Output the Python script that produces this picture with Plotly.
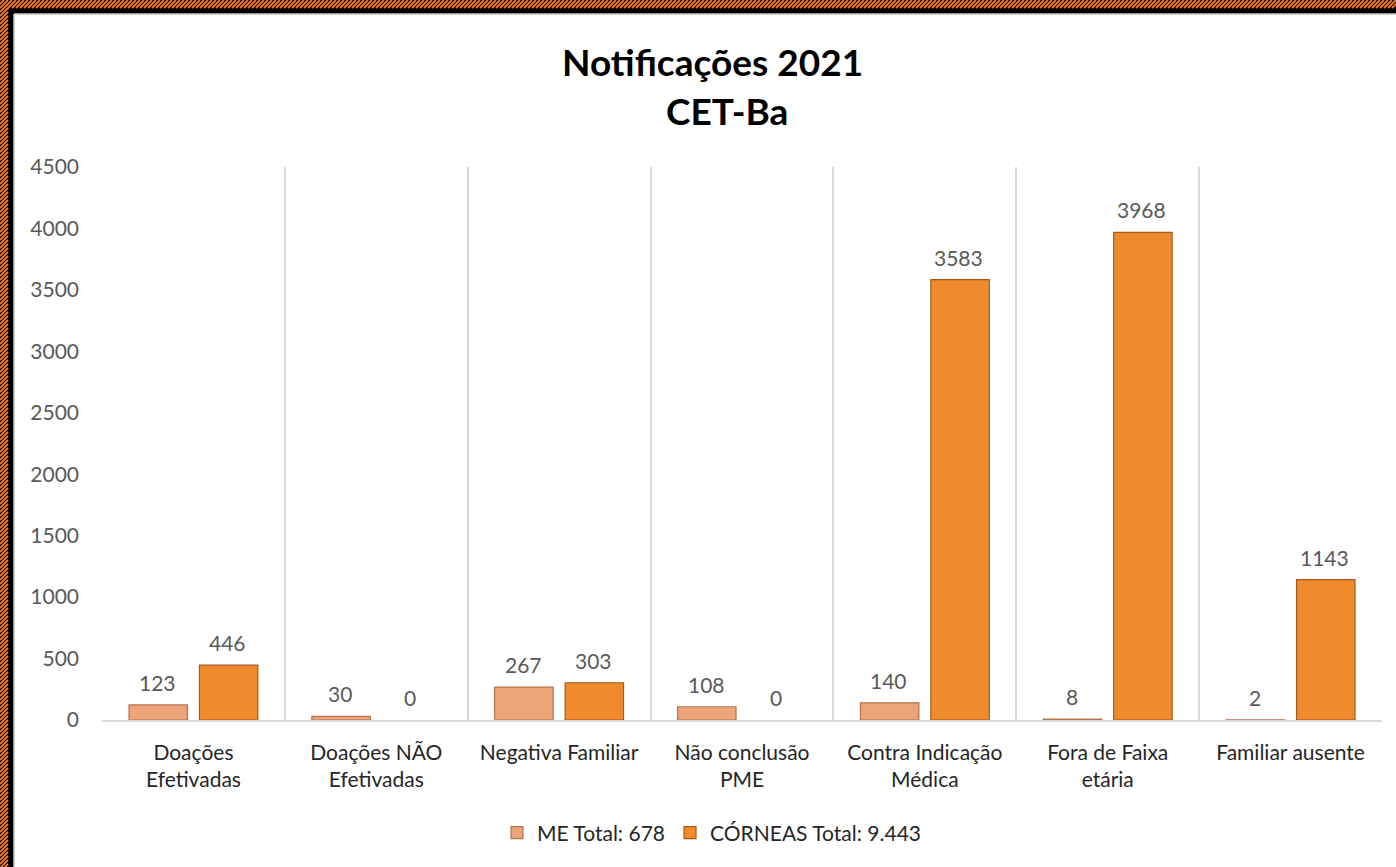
import plotly.graph_objects as go

categories = ["Doações<br>Efetivadas", "Doações NÃO<br>Efetivadas", "Negativa Familiar",
              "Não conclusão<br>PME", "Contra Indicação<br>Médica", "Fora de Faixa<br>etária",
              "Familiar ausente"]
me_values = [123, 30, 267, 108, 140, 8, 2]
corneas_values = [446, 0, 303, 0, 3583, 3968, 1143]
series_names = ["ME Total: 678", "CÓRNEAS Total: 9.443"]
y_ticks = [0, 500, 1000, 1500, 2000, 2500, 3000, 3500, 4000, 4500]

W, H = 1396, 867
ML, MR, MT, MB = 102, 14, 167, 147
PW, PH = W - ML - MR, H - MT - MB

def fx(px):
    return (px - ML) / PW

def fy(py):
    return 1 - (py - MT) / PH

FONT = "Lato"

fig = go.Figure()
fig.add_trace(go.Bar(
    x=categories, y=me_values, name=series_names[0],
    marker=dict(color="#eda47b",
                line=dict(color="#b5744e", width=[1.2 if v else 0 for v in me_values])),
))
fig.add_trace(go.Bar(
    x=categories, y=corneas_values, name=series_names[1],
    marker=dict(color="#ef8a2d",
                line=dict(color="#a9591c", width=[1.2 if v else 0 for v in corneas_values])),
))

annotations = []
for vals, shift in ((me_values, -36), (corneas_values, 34)):
    for c, v in zip(categories, vals):
        annotations.append(dict(
            x=c, y=v, xref="x", yref="y", text=str(v), showarrow=False,
            xshift=shift, yshift=8, yanchor="bottom",
            font=dict(family=FONT, size=21, color="#595959"),
        ))

annotations.append(dict(text="<b>Notificações 2021</b>", x=fx(712), y=fy(62),
                        xref="paper", yref="paper", showarrow=False, xanchor="center",
                        yanchor="middle", font=dict(family=FONT, size=37, color="#000000")))
annotations.append(dict(text="<b>CET-Ba</b>", x=fx(727), y=fy(110),
                        xref="paper", yref="paper", showarrow=False, xanchor="center",
                        yanchor="middle", font=dict(family=FONT, size=37, color="#000000")))

# decorative border (top and left)
shapes = []
shapes.append(dict(type="rect", xref="paper", yref="paper", x0=fx(0), x1=fx(14), y0=fy(H), y1=fy(0),
                   fillcolor="#000000", line=dict(width=0), layer="above"))
shapes.append(dict(type="rect", xref="paper", yref="paper", x0=fx(0), x1=fx(W), y0=fy(14), y1=fy(0),
                   fillcolor="#000000", line=dict(width=0), layer="above"))
path = []
x0 = -8
while x0 < W:
    path.append(f"M{fx(x0)},{fy(8)} L{fx(x0 + 8)},{fy(0)}")
    x0 += 4
y0 = 0
while y0 < H:
    path.append(f"M{fx(0)},{fy(y0 + 8)} L{fx(8)},{fy(y0)}")
    y0 += 4
shapes.append(dict(type="path", xref="paper", yref="paper", path=" ".join(path),
                   line=dict(color="#f57d1f", width=1.8), layer="above"))
shapes.append(dict(type="line", xref="paper", yref="paper", x0=fx(14), x1=fx(14), y0=fy(H), y1=fy(14),
                   line=dict(color="#c8c8c8", width=1.5), layer="above"))
shapes.append(dict(type="line", xref="paper", yref="paper", x0=fx(14), x1=fx(W), y0=fy(14), y1=fy(14),
                   line=dict(color="#c8c8c8", width=1.5), layer="above"))

fig.update_layout(
    width=W, height=H,
    margin=dict(l=ML, r=MR, t=MT, b=MB),
    paper_bgcolor="white", plot_bgcolor="white",
    barmode="group", bargap=0.23, bargroupgap=0.17,
    font=dict(family=FONT, color="#404040"),
    showlegend=True,
    legend=dict(orientation="h", x=fx(712), y=fy(833), xanchor="center", yanchor="middle",
                font=dict(family=FONT, size=21, color="#262626"), itemwidth=30),
    annotations=annotations,
    shapes=shapes,
)
fig.update_xaxes(
    type="category", range=[-0.5, len(categories) - 0.5], tickson="boundaries",
    showgrid=True, gridcolor="#d9d9d9", gridwidth=1.5,
    showline=True, linecolor="#d9d9d9", linewidth=1.5,
    ticks="", ticklabelstandoff=13,
    tickfont=dict(family=FONT, size=21, color="#262626"),
)
fig.update_yaxes(
    range=[0, 4500], tickvals=y_ticks, showgrid=False, zeroline=False, showline=False,
    ticks="", ticklabelstandoff=22,
    tickfont=dict(family=FONT, size=21, color="#595959"),
)

fig.write_html("out.html", config={"displayModeBar": False},
               post_script="document.body.style.margin='0';document.body.style.overflow='hidden';")
